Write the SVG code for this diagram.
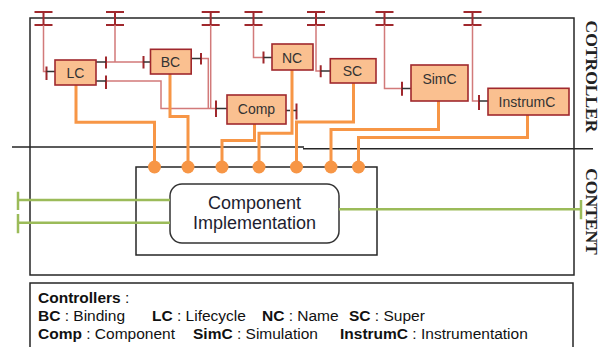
<svg xmlns="http://www.w3.org/2000/svg" width="606" height="347" viewBox="0 0 606 347">
  <style>
    .frame { fill: none; stroke: #262626; stroke-width: 1.5; }
    .ctl rect { fill: #fac090; stroke: #a0282d; stroke-width: 1.6; }
    .ctl text { font-family: "Liberation Sans", Arial, sans-serif; font-size: 14px; fill: #333; text-anchor: middle; }
    .wire { fill: none; stroke: #d27a7a; stroke-width: 1.5; }
    .bar { fill: none; stroke: #a0282d; stroke-width: 2; }
    .stub { stroke: #333; stroke-width: 1.5; }
    .bind { fill: none; stroke: #f79646; stroke-width: 3; }
    .port { fill: #f79646; }
    .green { stroke: #9bbb59; stroke-width: 2.5; }
    .side { font-family: "Liberation Serif", "Times New Roman", serif; font-size: 17.5px; font-weight: bold; fill: #222; text-anchor: middle; }
    .legend { font-family: "Liberation Sans", Arial, sans-serif; font-size: 15.5px; fill: #111; }
    .legend .b { font-weight: bold; }
  </style>
  <defs>
    <!-- external interface terminal on the top membrane -->
    <path id="topT" class="bar" d="M-9 12 H9 M0 12 V25 M-9 25 H9"/>
  </defs>

  <rect width="606" height="347" fill="#fff"/>

  <!-- membrane frames -->
  <g id="frames">
    <rect class="frame" x="30" y="18" width="544" height="257"/>
    <path class="frame" d="M12 147 H304 M303 148.7 H593"/>
    <rect class="frame" x="30" y="283" width="543" height="72"/>
    <text class="side" transform="translate(585.5,76.5) rotate(90)">COTROLLER</text>
    <text class="side" transform="translate(585.5,211.5) rotate(90)">CONTENT</text>
  </g>

  <!-- content part -->
  <g id="content">
    <rect class="frame" x="136" y="167" width="241" height="88"/>
    <g id="impl">
      <rect x="170" y="184" width="169" height="59" rx="12" fill="#fff" stroke="#333" stroke-width="1.5"/>
      <text x="254.5" y="209" font-family="Liberation Sans, Arial, sans-serif" font-size="18" fill="#1e1e30" text-anchor="middle">Component</text>
      <text x="254.5" y="229" font-family="Liberation Sans, Arial, sans-serif" font-size="18" fill="#1e1e30" text-anchor="middle">Implementation</text>
    </g>
  </g>

  <g id="connectors">
    <!-- top terminals -->
    <use href="#topT" x="43.5"/>
    <use href="#topT" x="115"/>
    <use href="#topT" x="210.7"/>
    <use href="#topT" x="253.5"/>
    <use href="#topT" x="316"/>
    <use href="#topT" x="384.5"/>
    <use href="#topT" x="472.5"/>

    <!-- controller bindings -->
    <path class="wire" d="M43.5 25 V71.5 H46.5"/>
    <path class="wire" d="M115 25 V62 M106 62 H143.5"/>
    <path class="wire" d="M106 81 H161 V108.5 H216"/>
    <path class="wire" d="M201 58.5 H208.3 V108.5"/>
    <path class="wire" d="M210.7 25 V108.5"/>
    <path class="wire" d="M253.5 25 V57.5 H263.5"/>
    <path class="wire" d="M316 25 V71 H320.7"/>
    <path class="wire" d="M384.5 25 V88.5 H402"/>
    <path class="wire" d="M472.5 25 V101 H479"/>

    <!-- interface bars and stubs -->
    <path class="bar" d="M46.5 66.5 V80 M106 56.5 V68.5 M106 75.5 V89 M143.5 56 V68.5 M201 53 V64.5 M216 100.5 V117 M263.5 51.5 V63.5 M320.7 65.3 V77.3 M296.5 103.5 V119.5 M402 81.7 V95.7 M479 95 V110"/>
    <path class="stub" d="M46.5 71.5 H55 M96 62 H106 M96 81 H106 M143.5 62 H150.5 M191 58.5 H201 M216 108.5 H227 M263.5 57.5 H272 M320.7 71 H330 M402 88.5 H411 M479 101 H488"/>
    <path class="stub" d="M286 110.5 H296.5" stroke-dasharray="4 3"/>

    <!-- controller to content links -->
    <path class="bind" d="M76 85 V122.3 H154.5 V167"/>
    <path class="bind" d="M170 74 V116.5 H188 V167"/>
    <path class="bind" d="M254.5 124 V140.5 H222 V167"/>
    <path class="bind" d="M292 70 V133.3 H259 V167"/>
    <path class="bind" d="M353.5 83 V122 H296.5 V167"/>
    <path class="bind" d="M438.5 101 V129.5 H331 V167"/>
    <path class="bind" d="M527.5 115 V137.5 H358.5 V167"/>
    <circle class="port" cx="154.5" cy="167" r="6.5"/>
    <circle class="port" cx="188" cy="167" r="6.5"/>
    <circle class="port" cx="222" cy="167" r="6.5"/>
    <circle class="port" cx="259" cy="167" r="6.5"/>
    <circle class="port" cx="296.5" cy="167" r="6.5"/>
    <circle class="port" cx="331" cy="167" r="6.5"/>
    <circle class="port" cx="358.5" cy="167" r="6.5"/>

    <!-- functional interfaces -->
    <path class="green" d="M18 200 H170 M18 222.7 H170 M339 209.3 H581"/>
    <path class="green" d="M18 191.7 V210 M18 214 V233.3 M581 200 V219.3"/>
  </g>

  <!-- controllers -->
  <g id="LC" class="ctl"><rect x="55" y="60" width="41" height="25"/><text x="75.5" y="78">LC</text></g>
  <g id="BC" class="ctl"><rect x="150.5" y="49.3" width="40.7" height="24.7"/><text x="170.5" y="67">BC</text></g>
  <g id="Comp" class="ctl"><rect x="227" y="95" width="59" height="29"/><text x="256.5" y="114">Comp</text></g>
  <g id="NC" class="ctl"><rect x="272" y="44" width="41" height="26"/><text x="292" y="63">NC</text></g>
  <g id="SC" class="ctl"><rect x="330.3" y="58.7" width="45.7" height="24.3"/><text x="352.5" y="76">SC</text></g>
  <g id="SimC" class="ctl"><rect x="411" y="65" width="57" height="36"/><text x="439.5" y="84">SimC</text></g>
  <g id="InstrumC" class="ctl"><rect x="488" y="88.3" width="81" height="26.7"/><text x="527" y="107">InstrumC</text></g>

  <!-- legend -->
  <g id="legend" class="legend">
    <text x="38" y="303"><tspan class="b">Controllers</tspan> :</text>
    <text y="321"><tspan x="38" class="b">BC</tspan> : Binding<tspan x="152" class="b">LC</tspan> : Lifecycle<tspan x="262" class="b">NC</tspan> : Name<tspan x="349" class="b">SC</tspan> : Super</text>
    <text y="339"><tspan x="38" class="b">Comp</tspan> : Component<tspan x="193" class="b">SimC</tspan> : Simulation<tspan x="340" class="b">InstrumC</tspan> : Instrumentation</text>
  </g>
</svg>
